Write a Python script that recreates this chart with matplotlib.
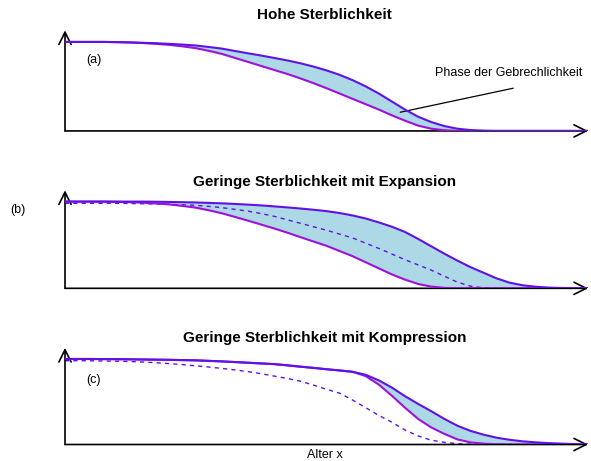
import matplotlib
matplotlib.use("Agg")
import matplotlib.pyplot as plt

plt.rcParams['font.family'] = ['Liberation Sans', 'DejaVu Sans']

# Alter (0..100, relativ) in Schritten von 2.5 und Überlebensanteile
age = [0, 2.5, 5, 7.5, 10, 12.5, 15, 17.5, 20, 22.5, 25, 27.5, 30, 32.5, 35, 37.5, 40,
       42.5, 45, 47.5, 50, 52.5, 55, 57.5, 60, 62.5, 65, 67.5, 70, 72.5, 75, 77.5, 80,
       82.5, 85, 87.5, 90, 92.5, 95, 97.5, 100]

hoch_oben = [1.0, 1.0, 1.0, 1.0, 0.998, 0.995, 0.99, 0.985, 0.978, 0.97, 0.96, 0.943,
             0.925, 0.898, 0.872, 0.847, 0.82, 0.792, 0.76, 0.723, 0.68, 0.63, 0.57, 0.5,
             0.42, 0.33, 0.24, 0.16, 0.10, 0.055, 0.025, 0.01, 0.003, 0.0, 0.0, 0.0, 0.0,
             0.0, 0.0, 0.0, 0.0]
hoch_unten = [1.0, 1.0, 1.0, 1.0, 0.997, 0.993, 0.987, 0.978, 0.967, 0.95, 0.93, 0.9,
              0.865, 0.82, 0.775, 0.73, 0.685, 0.64, 0.59, 0.537, 0.48, 0.42, 0.36, 0.3,
              0.24, 0.175, 0.115, 0.06, 0.025, 0.008, 0.0, 0.0, 0.0, 0.0, 0.0, 0.0, 0.0,
              0.0, 0.0, 0.0, 0.0]

exp_oben = [1.0, 1.0, 1.0, 1.0, 1.0, 1.0, 1.0, 0.998, 0.996, 0.993, 0.99, 0.985, 0.98,
            0.973, 0.965, 0.956, 0.945, 0.933, 0.92, 0.906, 0.89, 0.868, 0.84, 0.805,
            0.76, 0.71, 0.65, 0.57, 0.485, 0.4, 0.32, 0.245, 0.18, 0.115, 0.065, 0.035,
            0.018, 0.008, 0.004, 0.001, 0.0]
exp_unten = [1.0, 1.0, 1.0, 1.0, 0.997, 0.993, 0.987, 0.978, 0.967, 0.95, 0.93, 0.9,
             0.865, 0.823, 0.78, 0.735, 0.69, 0.642, 0.59, 0.54, 0.49, 0.43, 0.37, 0.3,
             0.23, 0.16, 0.10, 0.05, 0.02, 0.005, 0.0, 0.0, 0.0, 0.0, 0.0, 0.0, 0.0,
             0.0, 0.0, 0.0, 0.0]
exp_alt = [0.98, 0.98, 0.98, 0.98, 0.98, 0.978, 0.975, 0.972, 0.968, 0.963, 0.957, 0.945,
           0.93, 0.91, 0.89, 0.862, 0.83, 0.79, 0.75, 0.71, 0.67, 0.625, 0.58, 0.52,
           0.46, 0.395, 0.33, 0.27, 0.21, 0.14, 0.072, 0.025, 0.005, 0.0, 0.0, 0.0, 0.0,
           0.0, 0.0, 0.0, 0.0]

komp_oben = [1.0, 1.0, 1.0, 0.999, 0.998, 0.996, 0.994, 0.992, 0.99, 0.987, 0.984, 0.978,
             0.972, 0.964, 0.956, 0.948, 0.94, 0.926, 0.91, 0.896, 0.88, 0.866, 0.85,
             0.815, 0.75, 0.665, 0.565, 0.475, 0.39, 0.3, 0.22, 0.16, 0.115, 0.08, 0.055,
             0.037, 0.025, 0.016, 0.01, 0.004, 0.0]
komp_unten = [1.0, 1.0, 1.0, 0.999, 0.998, 0.996, 0.994, 0.992, 0.99, 0.987, 0.984, 0.978,
              0.972, 0.964, 0.956, 0.948, 0.94, 0.926, 0.91, 0.896, 0.88, 0.866, 0.85,
              0.80, 0.70, 0.57, 0.43, 0.30, 0.20, 0.125, 0.06, 0.025, 0.01, 0.003, 0.0,
              0.0, 0.0, 0.0, 0.0, 0.0, 0.0]
komp_alt = [0.98, 0.98, 0.979, 0.977, 0.974, 0.97, 0.964, 0.956, 0.946, 0.934, 0.92, 0.906,
            0.89, 0.872, 0.852, 0.828, 0.80, 0.772, 0.74, 0.695, 0.645, 0.6, 0.52, 0.43,
            0.34, 0.26, 0.17, 0.1, 0.05, 0.025, 0.01, 0.003, 0.0, 0.0, 0.0, 0.0, 0.0,
            0.0, 0.0, 0.0, 0.0]

titles = ["Hohe Sterblichkeit",
          "Geringe Sterblichkeit mit Expansion",
          "Geringe Sterblichkeit mit Kompression"]

col_oben = '#5f12e6'
col_unten = '#9c12d6'
col_fill = '#add8e6'

fig = plt.figure(figsize=(5.91, 4.61), dpi=100)

# Achsenpositionen in Figurenbruchteilen
rects = [[0.110, 0.716, 0.885, 0.222],
         [0.110, 0.3746, 0.885, 0.2163],
         [0.110, 0.0358, 0.885, 0.2133]]

panels = [(hoch_oben, hoch_unten, None),
          (exp_oben, exp_unten, exp_alt),
          (komp_oben, komp_unten, komp_alt)]

axes = []
for rect, (oben, unten, alt) in zip(rects, panels):
    ax = fig.add_axes(rect)
    ax.set_xlim(0, 100)
    ax.set_ylim(0, 1.15)
    ax.axis('off')

    # Achsen mit offenen Pfeilspitzen
    ax.annotate('', xy=(100, 0), xytext=(0, 0),
                arrowprops=dict(arrowstyle='->', color='black', lw=1.2,
                                mutation_scale=22, shrinkA=0, shrinkB=0))
    ax.annotate('', xy=(0, 1.13), xytext=(0, 0),
                arrowprops=dict(arrowstyle='->', color='black', lw=1.2,
                                mutation_scale=22, shrinkA=0, shrinkB=0))

    ax.fill_between(age, unten, oben, color=col_fill, lw=0, zorder=1)
    if alt is not None:
        ax.plot(age, alt, color=col_oben, lw=1.0, ls=(0, (3, 3)), zorder=2)
    ax.plot(age, unten, color=col_unten, lw=1.5, zorder=3)
    ax.plot(age, oben, color=col_oben, lw=1.5, zorder=4)
    axes.append(ax)

fig.text(0.549, 1 - 15 / 461, titles[0], ha='center', va='center',
         fontsize=11, fontweight='bold')
fig.text(0.549, 1 - 182 / 461, titles[1], ha='center', va='center',
         fontsize=11, fontweight='bold')
fig.text(0.549, 1 - 338 / 461, titles[2], ha='center', va='center',
         fontsize=11, fontweight='bold')

axes[0].text(4.0, 0.80, "(a)", fontsize=9, va='center')
fig.text(18 / 591, 1 - 210 / 461, "(b)", fontsize=9, ha='center', va='center')
axes[2].text(4.0, 0.76, "(c)", fontsize=9, va='center')

axes[0].text(70.7, 0.65, "Phase der Gebrechlichkeit", fontsize=9, va='center')
axes[0].annotate('', xy=(64.1, 0.21), xytext=(85.7, 0.48),
                 arrowprops=dict(arrowstyle='-', color='black', lw=0.9,
                                 shrinkA=0, shrinkB=0))

fig.text(325 / 591, 1 - 455 / 461, "Alter x", fontsize=9, ha='center', va='center')

fig.savefig("out.png", dpi=100)
